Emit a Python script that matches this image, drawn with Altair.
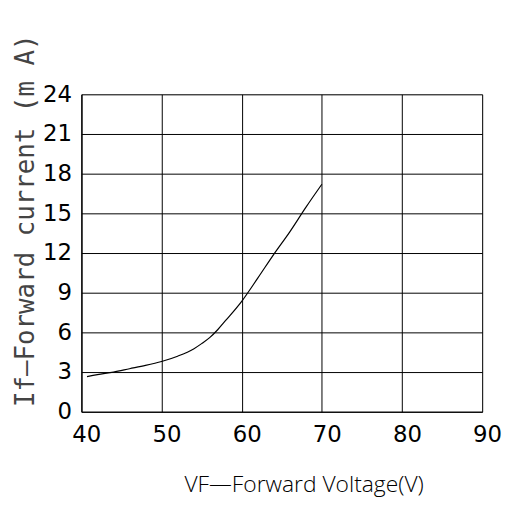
import altair as alt
import pandas as pd

# Curve values
vf = [40.7, 42, 44, 46, 48, 50, 52, 54, 55, 56, 57, 58, 60, 62, 64, 66, 68, 70]
if_ma = [2.65, 2.8, 3.0, 3.25, 3.5, 3.8, 4.2, 4.75, 5.15, 5.6, 6.2, 6.9, 8.35, 10.1, 11.9, 13.6, 15.45, 17.2]

x_ticks = [40, 50, 60, 70, 80, 90]
y_ticks = [0, 3, 6, 9, 12, 15, 18, 21, 24]

df = pd.DataFrame({"volt": vf, "current": if_ma})

line = alt.Chart(df).mark_line(color="black", strokeWidth=1.2, interpolate="monotone").encode(
    x=alt.X("volt:Q",
            scale=alt.Scale(domain=[40, 90], nice=False, zero=False),
            axis=alt.Axis(values=x_ticks, title="VF—Forward Voltage(V)",
                          grid=True, gridColor="black", gridOpacity=1, gridWidth=1,
                          domainColor="black", domainWidth=1.2,
                          ticks=False, labelPadding=12, labelOffset=5, labelFlush=False,
                          labelFontSize=23, labelFont="DejaVu Sans", labelColor="black",
                          titleFont="Open Sans", titleFontWeight=300, titleFontSize=23,
                          titleColor="black", titleBaseline="alphabetic",
                          titleX=224, titleY=80)),
    y=alt.Y("current:Q",
            scale=alt.Scale(domain=[0, 24], nice=False),
            axis=alt.Axis(values=y_ticks, title="If—Forward current (m A)",
                          grid=True, gridColor="black", gridOpacity=1, gridWidth=1,
                          domainColor="black", domainWidth=1.2,
                          ticks=False, labelPadding=10,
                          labelFontSize=23, labelFont="DejaVu Sans", labelColor="black",
                          titleFont="DejaVu Sans Mono", titleFontWeight="normal", titleFontSize=26,
                          titleColor="#444444", titleBaseline="alphabetic",
                          titleX=-48, titleY=127)),
)

chart = line.properties(
    width=404, height=320,
    autosize=alt.AutoSizeParams(type="none"),
    padding={"left": 74, "top": 85, "right": 20, "bottom": 90},
).configure_view(stroke="black", strokeWidth=1.2).configure(background="white")

chart.save("out.html", embed_options={"renderer": "svg", "actions": False})
